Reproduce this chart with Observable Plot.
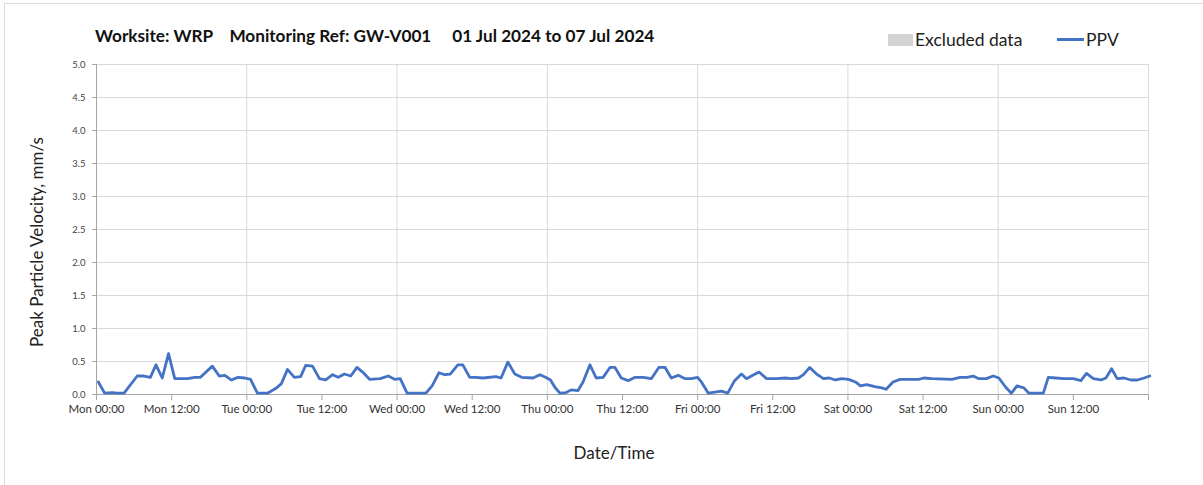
<!DOCTYPE html>
<html>
<head>
<meta charset="utf-8">
<script src="https://cdn.jsdelivr.net/npm/d3@7"></script>
<script src="https://cdn.jsdelivr.net/npm/@observablehq/plot@0.6"></script>
<style>
  html, body { margin: 0; padding: 0; background: #fff; }
  #wrap { position: relative; width: 1203px; height: 485px; overflow: hidden; font-family: Lato, "Open Sans", sans-serif; }
  #frame { position: absolute; left: 4px; top: 3px; width: 1260px; height: 600px; border: 1px solid #dcdcdc; }
  #title { position: absolute; left: 95px; top: 25px; font-size: 17.2px; font-weight: bold; color: #111; white-space: pre; }
  .abs { position: absolute; }
  #chart { position: absolute; left: 0; top: 0; }
  #ylab { position: absolute; left: 36px; top: 242px; transform: translate(-50%, -50%) rotate(-90deg); font-size: 17px; color: #222; white-space: nowrap; }
  #xlab { position: absolute; left: 614px; top: 452px; transform: translate(-50%, -50%); font-size: 17px; color: #222; white-space: nowrap; }
</style>
</head>
<body>
<div id="wrap">
  <div id="frame"></div>
  <div id="chart"></div>
  <div id="title">Worksite: WRP    Monitoring Ref: GW-V001     01 Jul 2024 to 07 Jul 2024</div>
  <div class="abs" style="left:888px;top:34px;width:25px;height:12px;background:#d3d3d3;"></div>
  <div class="abs" style="left:915px;top:29px;font-size:17.5px;color:#222;white-space:nowrap;">Excluded data</div>
  <div class="abs" style="left:1057px;top:38px;width:27px;height:3px;background:#4472c4;"></div>
  <div class="abs" style="left:1086px;top:29px;font-size:17.5px;color:#222;">PPV</div>
  <div id="ylab">Peak Particle Velocity, mm/s</div>
  <div id="xlab">Date/Time</div>
</div>
<script>
// hours since Mon 01 Jul 2024 00:00
const hours = [0.3,1.3,2.5,3.3,4.4,6.5,7.6,8.6,9.5,10.5,11.5,12.5,14.5,15.7,16.6,18.5,19.6,20.5,21.5,22.6,23.7,
  24.6,25.7,27.3,28.6,29.5,30.5,31.6,32.6,33.4,34.5,35.6,36.6,37.7,38.6,39.6,40.6,41.6,42.5,43.6,45.3,46.6,47.6,
  48.5,49.6,52.6,53.6,54.7,55.6,56.5,57.7,58.5,59.6,60.6,61.7,63.8,64.6,65.7,66.8,67.9,69.7,70.8,71.7,
  72.5,73.2,74.0,75.0,75.8,76.9,77.7,78.8,79.8,80.9,82.0,82.8,83.8,84.9,86.0,87.3,88.6,89.8,90.8,91.8,92.9,94.0,95.0,
  96.0,96.6,97.7,99.8,100.8,101.9,103.0,103.8,104.8,105.8,107.0,108.6,110.0,111.0,112.1,112.9,113.9,115.0,116.1,117.0,118.0,119.0,
  120.1,121.2,122.0,123.0,124.3,125.4,126.1,127.2,128.3,131.3,132.1,133.4,136.6,137.9,139.0,140.0,140.9,142.1,143.2,
  144.1,145.2,146.1,147.0,148.1,148.9,151.2,152.0,153.2,154.5,156.0,157.2,158.1,159.2,160.4,161.2,162.1,163.0,164.1,165.2,166.2,167.3,168.2];
const ppv = [0.19,0.02,0.03,0.02,0.02,0.28,0.28,0.26,0.45,0.25,0.62,0.24,0.24,0.26,0.26,0.43,0.28,0.29,0.22,0.26,0.25,
  0.23,0.02,0.02,0.09,0.16,0.38,0.26,0.27,0.44,0.43,0.24,0.22,0.30,0.26,0.31,0.28,0.41,0.34,0.23,0.24,0.28,0.23,
  0.24,0.02,0.02,0.13,0.33,0.30,0.31,0.45,0.45,0.26,0.26,0.25,0.27,0.25,0.49,0.31,0.26,0.25,0.30,0.26,
  0.22,0.11,0.02,0.03,0.07,0.06,0.19,0.45,0.25,0.26,0.41,0.41,0.25,0.21,0.26,0.26,0.24,0.41,0.41,0.25,0.29,0.24,0.24,
  0.26,0.19,0.02,0.05,0.02,0.21,0.31,0.24,0.29,0.34,0.24,0.24,0.25,0.24,0.25,0.30,0.41,0.31,0.24,0.25,0.22,0.24,
  0.23,0.19,0.13,0.15,0.12,0.10,0.08,0.19,0.23,0.23,0.25,0.24,0.23,0.26,0.26,0.28,0.24,0.24,0.28,
  0.25,0.11,0.02,0.13,0.10,0.02,0.02,0.26,0.25,0.24,0.24,0.21,0.32,0.24,0.22,0.25,0.39,0.24,0.25,0.22,0.22,0.25,0.28];
const yTicks = [0, 0.5, 1, 1.5, 2, 2.5, 3, 3.5, 4, 4.5, 5];
const xTickHours = [0, 12, 24, 36, 48, 60, 72, 84, 96, 108, 120, 132, 144, 156, 168];
const gridHours = [24, 48, 72, 96, 120, 144, 168];

const t0 = Date.UTC(2024, 6, 1, 0, 0);
const toDate = h => new Date(t0 + h * 3600e3);
const data = hours.map((h, i) => ({date: toDate(h), ppv: ppv[i]}));
const fmt = d3.utcFormat("%a %H:%M");
const tEnd = toDate(168);

const chart = Plot.plot({
  width: 1203,
  height: 485,
  marginTop: 64,
  marginLeft: 96,
  marginRight: 55,
  marginBottom: 91,
  style: {fontFamily: "Lato, 'Open Sans', sans-serif", background: "transparent", overflow: "visible"},
  x: {type: "utc", domain: [toDate(0), tEnd]},
  y: {domain: [0, 5]},
  marks: [
    Plot.gridY(yTicks, {stroke: "#d9d9d9", strokeOpacity: 1}),
    Plot.ruleX(gridHours.map(toDate), {stroke: "#d9d9d9", strokeOpacity: 1}),
    Plot.ruleY([0], {stroke: "#a6a6a6"}),
    Plot.ruleX([toDate(0)], {stroke: "#a6a6a6"}),
    Plot.axisY(yTicks, {tickFormat: d3.format(".1f"), tickSize: 4, tickPadding: 7, stroke: "#a6a6a6", fontSize: 9.5, fill: "#444", label: null}),
    Plot.axisX(xTickHours.map(toDate), {tickFormat: d => (+d === +tEnd ? "" : fmt(d)), tickSize: 6, tickPadding: 4, stroke: "#a6a6a6", fontSize: 11.5, fill: "#333", label: null}),
    Plot.line(data, {x: "date", y: "ppv", stroke: "#4472c4", strokeWidth: 2.8, curve: "linear"})
  ]
});
document.getElementById("chart").appendChild(chart);
</script>
</body>
</html>
